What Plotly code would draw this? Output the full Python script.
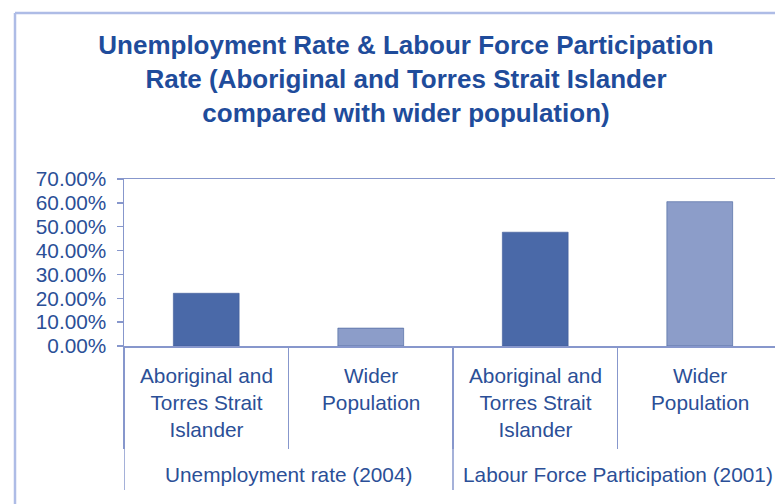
import plotly.graph_objects as go

# ---- data ----
groups = ["Unemployment rate (2004)", "Unemployment rate (2004)",
          "Labour Force Participation (2001)", "Labour Force Participation (2001)"]
subcats = ["Aboriginal and<br>Torres Strait<br>Islander", "Wider<br>Population",
           "Aboriginal and<br>Torres Strait<br>Islander", "Wider<br>Population"]
values = [0.221, 0.075, 0.477, 0.605]
y_ticks = [0, 0.1, 0.2, 0.3, 0.4, 0.5, 0.6, 0.7]
title_text = ("Unemployment Rate & Labour Force Participation<br>"
              "Rate (Aboriginal and Torres Strait Islander<br>"
              "compared with wider population)")

DARK = "#4a69a8"
LIGHT = "#8c9dc9"
TEXT = "#2b4f97"
TITLE = "#1f4c9b"
AXIS = "#8797cc"
FRAME = "#aebce6"
FONT = "Liberation Sans, Arial, sans-serif"
FS = 20.8

keys = [f"{g}|{i}" for i, g in enumerate(groups)]
bar_colors = [DARK, LIGHT, DARK, LIGHT]

W, H = 775, 504
ML, MR, MT, MB = 124, 0, 179, 158
plot_h = H - MT - MB
plot_w = W - ML - MR

fig = go.Figure()
fig.add_trace(go.Bar(
    x=keys, y=values,
    marker=dict(color=bar_colors, line=dict(color="#3f5d99", width=0.6)),
    hoverinfo="skip",
))

annotations = []
for k, s in zip(keys, subcats):
    annotations.append(dict(
        x=k, y=0, xref="x", yref="paper", text=s, showarrow=False,
        yanchor="top", xanchor="center", yshift=-16, align="center",
        font=dict(family=FONT, size=FS, color=TEXT),
    ))

seen = []
for g in groups:
    if g not in seen:
        seen.append(g)
for g in seen:
    idx = [i for i, gg in enumerate(groups) if gg == g]
    annotations.append(dict(
        x=sum(idx) / len(idx), y=0, xref="x", yref="paper", text=g,
        showarrow=False, yanchor="middle", xanchor="center", yshift=-128,
        font=dict(family=FONT, size=FS, color=TEXT),
    ))

shapes = []
for g in seen:
    first = groups.index(g)
    shapes.append(dict(type="line", xref="x", yref="paper",
                       x0=first - 0.5, x1=first - 0.5, y0=0, y1=-144 / plot_h,
                       line=dict(color=AXIS, width=1.5)))
fx = (15 - ML) / plot_w
fy = (H - MB - 13) / plot_h
shapes.append(dict(type="line", xref="paper", yref="paper",
                   x0=fx, x1=fx, y0=-1.2, y1=fy,
                   line=dict(color=FRAME, width=2.5)))
shapes.append(dict(type="line", xref="paper", yref="paper",
                   x0=fx, x1=1.2, y0=fy, y1=fy,
                   line=dict(color=FRAME, width=2.5)))

cat_w = 164.5
fig.update_layout(
    width=W, height=H,
    margin=dict(l=ML, r=MR, t=MT, b=MB),
    paper_bgcolor="white", plot_bgcolor="white",
    showlegend=False,
    bargap=0.6,
    title=dict(text=title_text, x=406 / W, xanchor="center",
               y=1 - 54 / H, yanchor="middle", yref="container",
               font=dict(family=FONT, size=26, color=TITLE, weight="bold")),
    xaxis=dict(type="category", range=[-0.5, -0.5 + plot_w / cat_w],
               showticklabels=False, ticks="outside", tickson="boundaries",
               ticklen=101, tickcolor=AXIS, tickwidth=1.5,
               showline=True, linecolor=AXIS, linewidth=1.5, mirror=True,
               showgrid=False, zeroline=False, fixedrange=True),
    yaxis=dict(range=[0, 0.7], tickvals=y_ticks, tickformat=".2%",
               ticks="outside", ticklen=6, tickcolor=AXIS, tickwidth=1.5,
               showline=True, linecolor=AXIS, linewidth=1.5,
               showgrid=False, zeroline=False, ticklabelstandoff=6,
               fixedrange=True,
               tickfont=dict(family=FONT, size=FS, color=TEXT)),
    annotations=annotations,
    shapes=shapes,
)

fig.write_html(
    "out.html",
    config={"displayModeBar": False, "staticPlot": True},
    post_script="document.body.style.margin='0';document.body.style.overflow='hidden';",
)
